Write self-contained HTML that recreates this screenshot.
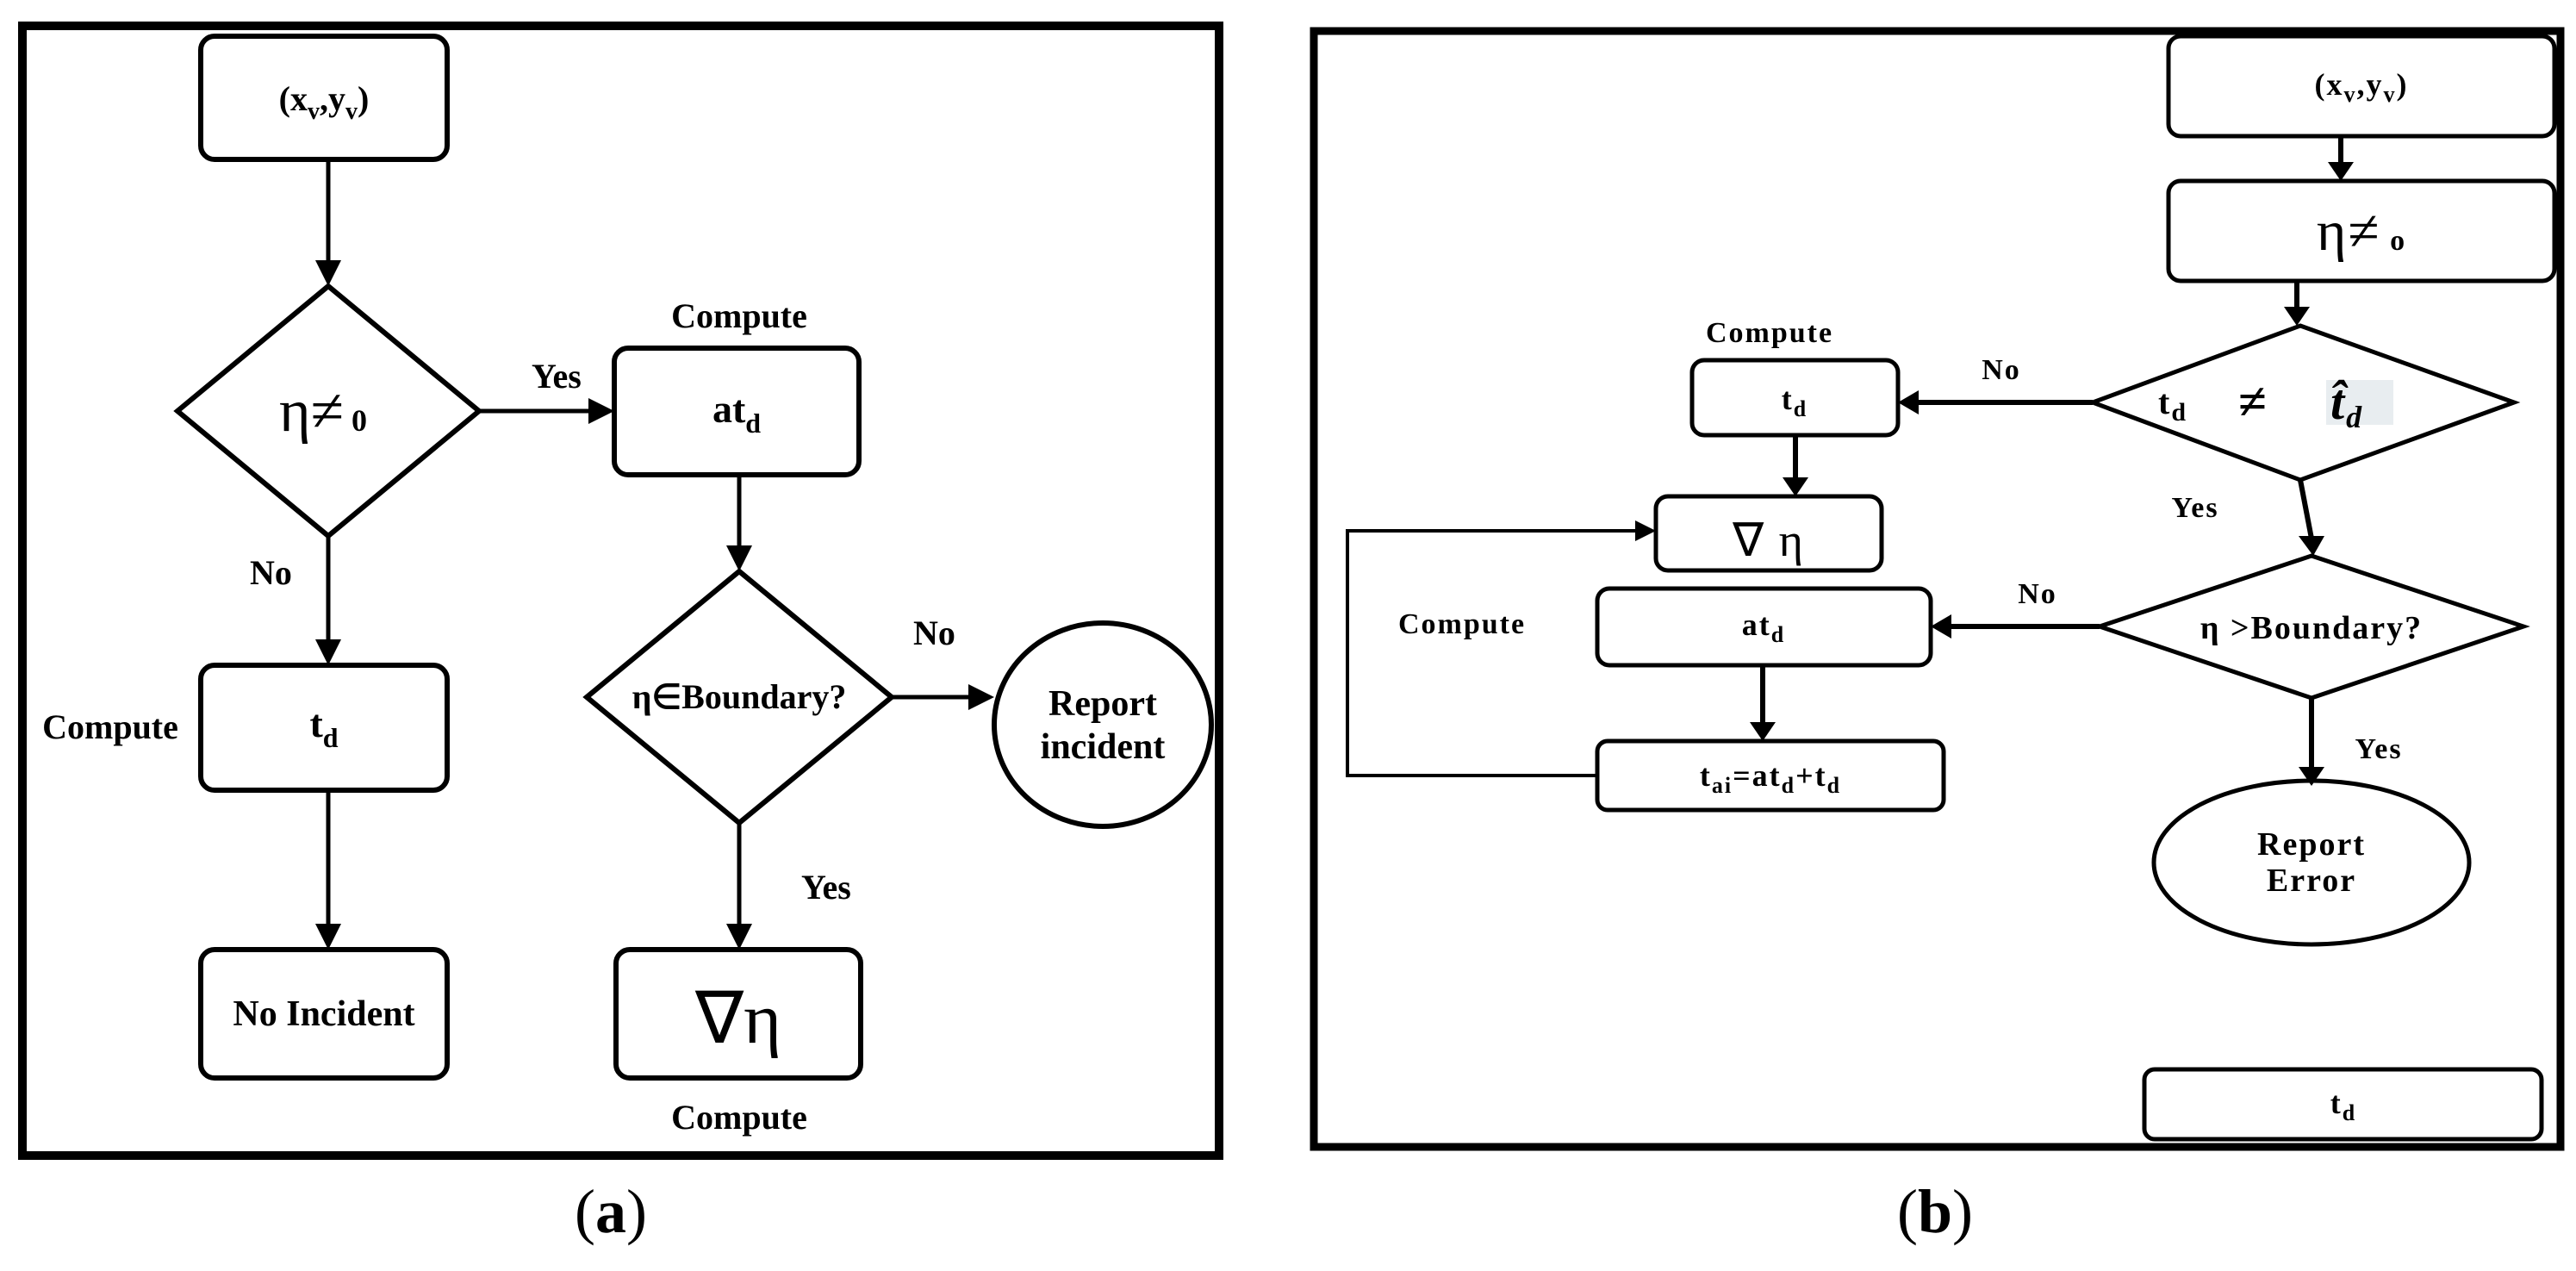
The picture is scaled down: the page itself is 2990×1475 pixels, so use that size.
<!DOCTYPE html>
<html><head><meta charset="utf-8"><style>
html,body{margin:0;padding:0;background:#fff;}
svg{display:block;}
text{font-family:"Liberation Serif",serif;fill:#000;}
.bd{font-weight:bold;}
.nm{font-weight:normal;}
.b text{letter-spacing:2px;}
</style></head><body>
<svg width="2990" height="1475" viewBox="0 0 2990 1475" xmlns="http://www.w3.org/2000/svg">
<rect width="2990" height="1475" fill="#fff"/>
<!-- Panel a frame -->
<rect x="26" y="30" width="1389" height="1311" fill="none" stroke="#000" stroke-width="10"/>
<g fill="none" stroke="#000" stroke-width="6">
<rect x="233" y="42" width="286" height="143" rx="16"/>
<polygon points="381,332 556,477 381,622 206,477"/>
<rect x="713" y="404" width="284" height="147" rx="16"/>
<polygon points="858,663 1035,809 858,955 681,809"/>
<ellipse cx="1280" cy="841" rx="126" ry="118"/>
<rect x="715" y="1102" width="284" height="149" rx="16"/>
<rect x="233" y="772" width="286" height="145" rx="16"/>
<rect x="233" y="1102" width="286" height="149" rx="16"/>
</g>
<g stroke="#000" stroke-width="5" fill="none">
<line x1="381" y1="185" x2="381" y2="310"/>
<line x1="556" y1="477" x2="690" y2="477"/>
<line x1="858" y1="551" x2="858" y2="641"/>
<line x1="1035" y1="809" x2="1132" y2="809"/>
<line x1="858" y1="955" x2="858" y2="1080"/>
<line x1="381" y1="622" x2="381" y2="750"/>
<line x1="381" y1="917" x2="381" y2="1080"/>
</g>
<g fill="#000">
<polygon points="366,302 396,302 381,332"/>
<polygon points="683,462 683,492 713,477"/>
<polygon points="843,633 873,633 858,663"/>
<polygon points="1124,794 1124,824 1154,809"/>
<polygon points="843,1072 873,1072 858,1102"/>
<polygon points="366,742 396,742 381,772"/>
<polygon points="366,1072 396,1072 381,1102"/>
</g>
<g class="bd">
<text x="376" y="128" font-size="40" text-anchor="middle">(x<tspan font-size="28" dy="10">v</tspan><tspan dy="-10">,y</tspan><tspan font-size="28" dy="10">v</tspan><tspan dy="-10">)</tspan></text>
<text x="375" y="500" font-size="70" text-anchor="middle" class="nm">η≠<tspan font-size="36" class="bd"> 0</tspan></text>
<text x="617" y="450" font-size="40">Yes</text>
<text x="858" y="380" font-size="40" text-anchor="middle">Compute</text>
<text x="855" y="490" font-size="46" text-anchor="middle">at<tspan font-size="32" dy="12">d</tspan></text>
<text x="858" y="822" font-size="40" text-anchor="middle">η∈Boundary?</text>
<text x="1060" y="748" font-size="40">No</text>
<text x="1280" y="830" font-size="42" text-anchor="middle">Report</text>
<text x="1280" y="880" font-size="42" text-anchor="middle">incident</text>
<text x="930" y="1043" font-size="40">Yes</text>
<text x="857" y="1210" font-size="84" text-anchor="middle" class="nm">∇η</text>
<text x="858" y="1310" font-size="40" text-anchor="middle">Compute</text>
<text x="290" y="678" font-size="40">No</text>
<text x="376" y="855" font-size="46" text-anchor="middle">t<tspan font-size="32" dy="12">d</tspan></text>
<text x="128" y="857" font-size="40" text-anchor="middle">Compute</text>
<text x="376" y="1190" font-size="42" text-anchor="middle">No Incident</text>
</g>
<text x="709" y="1430" font-size="72" text-anchor="middle" class="nm">(<tspan class="bd">a</tspan>)</text>

<!-- Panel b -->
<rect x="1525" y="36" width="1447" height="1295" fill="none" stroke="#000" stroke-width="9"/>
<g class="b">
<g fill="none" stroke="#000" stroke-width="5">
<rect x="2517" y="42" width="448" height="116" rx="14"/>
<rect x="2517" y="210" width="448" height="116" rx="14"/>
<polygon points="2670,378 2918,467 2670,557 2429,467"/>
<rect x="1964" y="418" width="239" height="87" rx="14"/>
<rect x="1922" y="576" width="262" height="86" rx="14"/>
<rect x="1854" y="683" width="387" height="89" rx="14"/>
<rect x="1854" y="860" width="402" height="80" rx="12"/>
<polygon points="2683,645 2929,727 2683,810 2437,727"/>
<ellipse cx="2683" cy="1001" rx="183" ry="95"/>
<rect x="2489" y="1241" width="461" height="81" rx="12"/>
</g>
<g stroke="#000" stroke-width="6" fill="none">
<line x1="2717" y1="158" x2="2717" y2="190"/>
<line x1="2666" y1="326" x2="2666" y2="358"/>
<line x1="2429" y1="467" x2="2225" y2="467"/>
<line x1="2084" y1="505" x2="2084" y2="556"/>
<polyline points="1854,900 1564,900 1564,616 1900,616" stroke-width="4"/>
<line x1="2670" y1="557" x2="2683" y2="625"/>
<line x1="2437" y1="727" x2="2263" y2="727"/>
<line x1="2046" y1="772" x2="2046" y2="840"/>
<line x1="2683" y1="810" x2="2683" y2="892"/>
</g>
<g fill="#000">
<polygon points="2702,188 2732,188 2717,210"/>
<polygon points="2651,356 2681,356 2666,378"/>
<polygon points="2227,453 2227,481 2203,467"/>
<polygon points="2069,554 2099,554 2084,576"/>
<polygon points="1898,604 1898,628 1922,616"/>
<polygon points="2668,622 2698,622 2685,645"/>
<polygon points="2265,713 2265,741 2241,727"/>
<polygon points="2031,838 2061,838 2046,860"/>
<polygon points="2668,890 2698,890 2683,912"/>
</g>
<g class="bd">
<text x="2741" y="110" font-size="36" text-anchor="middle">(x<tspan font-size="26" dy="8">v</tspan><tspan dy="-8">,y</tspan><tspan font-size="26" dy="8">v</tspan><tspan dy="-8">)</tspan></text>
<text x="2741" y="290" font-size="66" text-anchor="middle" class="nm">η≠<tspan font-size="34" class="bd"> o</tspan></text>
<text x="2054" y="397" font-size="34" text-anchor="middle">Compute</text>
<text x="2323" y="440" font-size="34" text-anchor="middle">No</text>
<rect x="2700" y="441" width="78" height="52" fill="#e8edf0"/>
<text x="2505" y="480" font-size="40">t<tspan font-size="30" dy="8">d</tspan></text>
<text x="2598" y="486" font-size="60">≠</text>
<text x="2705" y="486" font-size="58" font-style="italic">t̂<tspan font-size="36" dy="10">d</tspan></text>
<text x="2083" y="475" font-size="36" text-anchor="middle">t<tspan font-size="26" dy="8">d</tspan></text>
<text x="2053" y="645" font-size="54" text-anchor="middle" class="nm">∇ η</text>
<text x="2548" y="600" font-size="34" text-anchor="middle">Yes</text>
<text x="1697" y="735" font-size="34" text-anchor="middle">Compute</text>
<text x="2365" y="700" font-size="34" text-anchor="middle">No</text>
<text x="2047" y="737" font-size="36" text-anchor="middle">at<tspan font-size="26" dy="8">d</tspan></text>
<text x="2683" y="741" font-size="38" text-anchor="middle">η &gt;Boundary?</text>
<text x="2055" y="912" font-size="36" text-anchor="middle">t<tspan font-size="26" dy="8">ai</tspan><tspan dy="-8">=at</tspan><tspan font-size="26" dy="8">d</tspan><tspan dy="-8">+t</tspan><tspan font-size="26" dy="8">d</tspan></text>
<text x="2761" y="880" font-size="34" text-anchor="middle">Yes</text>
<text x="2683" y="992" font-size="38" text-anchor="middle">Report</text>
<text x="2683" y="1034" font-size="38" text-anchor="middle">Error</text>
<text x="2720" y="1292" font-size="36" text-anchor="middle">t<tspan font-size="26" dy="8">d</tspan></text>
</g>
</g>
<text x="2246" y="1430" font-size="72" text-anchor="middle" class="nm">(<tspan class="bd">b</tspan>)</text>
</svg>
</body></html>
